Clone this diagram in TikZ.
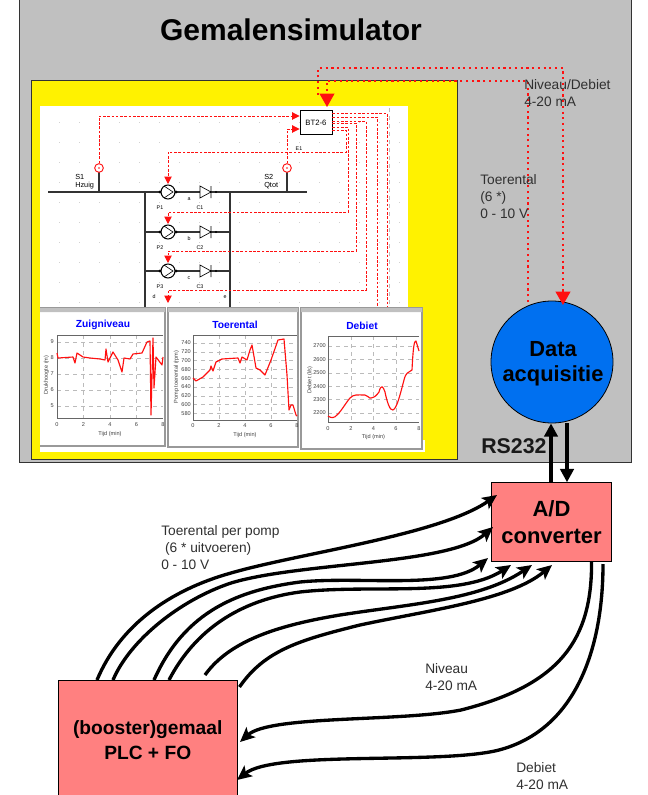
\documentclass[tikz,border=0pt]{standalone}
\usepackage{fontspec}
\setmainfont{Liberation Sans}
\usetikzlibrary{arrows.meta,positioning,calc}
\definecolor{panel}{HTML}{C0C0C0}
\definecolor{pinkbox}{HTML}{FF8080}
\definecolor{bluedisc}{HTML}{0070F0}
\definecolor{dimtext}{HTML}{303030}
\definecolor{dots}{HTML}{BBBBBB}
\definecolor{sigred}{HTML}{FF1010}
\tikzset{ctrlbox/.style={draw=black,line width=0.6pt,fill=pinkbox,align=center,font=\bfseries\fontsize{14.4}{18.7}\selectfont,inner sep=0pt},
 note/.style={anchor=north west,align=left,inner sep=0pt,text=dimtext,font=\fontsize{10.3}{13}\selectfont},
 sigarrow/.style={-{Stealth[length=11pt,width=10pt,inset=2.5pt]},line width=2.5pt,black},
 busarrow/.style={-{Triangle[length=10pt,width=10pt]},line width=2.8pt,black},
 trunkdot/.style={sigred,line width=1.3pt,dash pattern=on 1.6pt off 2.7pt},
 trunkarrow/.style={trunkdot,-{Triangle[length=10pt,width=11pt,sigred]}},
 wire/.style={sigred,line width=0.7pt,dash pattern=on 2pt off 1.2pt},
 wirearrow/.style={wire,-{Triangle[length=5.5pt,width=5.5pt,sigred]}},
 pipe/.style={black!80,line width=0.8pt},
 chartwin/.style={draw=black!40,line width=1.2pt,fill=white},
 charttitle/.style={text=blue,font=\bfseries\fontsize{7.7}{8}\selectfont,inner sep=0pt},
 ticklabel/.style={font=\fontsize{4.2}{5}\selectfont,text=black!75,inner sep=0pt},
 tinylabel/.style={font=\fontsize{4}{5}\selectfont,inner sep=0pt},
 pumpmark/.style={circle,draw=black,line width=0.8pt,fill=white,minimum size=10.5pt,inner sep=0pt},
 sensor/.style={circle,draw=sigred,line width=0.7pt,fill=white,minimum size=6.5pt,inner sep=0pt},
 plotline/.style={sigred,line width=0.85pt,line join=round}}
\begin{document}
\begin{tikzpicture}[x=0.75pt,y=-0.75pt]
\useasboundingbox (0,0) rectangle (648,795);
\fill[white] (0,0) rectangle (648,795);
% panels
\draw[fill=panel,line width=0.6pt,draw=black!80] (19,-5) rectangle (631,462);
\draw[fill=yellow,line width=0.6pt,draw=black!80] (31,80) rectangle (457,459);
\fill[white] (40,106) rectangle (408,452);
\fill[white] (40,440) rectangle (425,452);
\node[font=\bfseries\fontsize{22.5}{26}\selectfont] (title) at (291,30) {Gemalensimulator};
\foreach \gx in {0,...,17}
 \foreach \gy in {0,...,9}
  \fill[dots] (59.5+\gx*20,122.5+\gy*20) circle (0.35pt);
% process lines
\draw[pipe] (48,192) -- (307,192);
\draw[pipe] (145,192) -- (145,310);
\draw[pipe] (230,192) -- (230,310);
\draw[pipe] (145,232) -- (230,232);
\draw[pipe] (145,271) -- (230,271);
\draw[pipe] (99,172) -- (99,192);
\draw[pipe] (287,172) -- (287,192);
\foreach \py/\pname/\cname/\lname in {192/P1/C1/a,232/P2/C2/b,271/P3/C3/c}{
 \node[pumpmark] (pump\pname) at (168,\py) {};
 \draw[line width=0.5pt,black] (164,\py-6) -- (173,\py) -- (164,\py+6);
 \fill[black] (160,\py) circle (1.2pt) (176,\py) circle (1.2pt) (216,\py) circle (0.9pt);
 \fill[white] (200,\py-6) -- (211,\py) -- (200,\py+6) -- cycle;
 \draw[line width=0.5pt,black] (200,\py-6) -- (211,\py) -- (200,\py+6) -- cycle (211,\py-6) -- (211,\py+6);
 \node[tinylabel] at (160,\py+16) {\pname};
 \node[tinylabel] at (200,\py+16) {\cname};
 \node[tinylabel] at (189,\py+7) {\lname};
}
\node[sensor] (s1) at (99,168) {};
\node[sensor] (s2) at (287,168) {};
\fill[sigred] (s1.center) circle (0.6pt) (s2.center) circle (0.6pt);
\node[anchor=north west,font=\fontsize{5.5}{6}\selectfont,align=left,inner sep=0pt] (s1lab) at (75,174) {S1\\Hzuig};
\node[anchor=north west,font=\fontsize{5.5}{6}\selectfont,align=left,inner sep=0pt] (s2lab) at (264,174) {S2\\Qtot};
\node[draw=black,line width=0.7pt,fill=white,minimum width=24pt,minimum height=18.5pt,inner sep=0pt,font=\fontsize{5.8}{6}\selectfont] (bt) at (316,122.5) {BT2-6};
\node[tinylabel] at (299,149) {E1};
\node[tinylabel] at (154,297) {d};
\node[tinylabel] at (225,297) {e};
% red wires
\draw[wirearrow] (s1.north) |- (bt.west |- 0,116);
\draw[wirearrow] (s2.north) |- (bt.west |- 0,129);
\draw[wirearrow] (bt.east |- 0,130) -| (346,152) -| (168,184);
\draw[wirearrow] (bt.east |- 0,127) -| (348,212) -| (168,224);
\draw[wirearrow] (bt.east |- 0,123) -| (356,251) -| (168,263);
\draw[wirearrow] (bt.east |- 0,121) -| (366,290) -| (168,303);
\draw[wire] (bt.east |- 0,117) -| (377,308);
\draw[wire] (bt.east |- 0,113) -| (387,308);
\draw[dots,line width=0.5pt,dashed] (389,108) -- (389,308);
% chart windows
\draw[chartwin] (36,308) rectangle (165,446);
\draw[chartwin] (168,308) rectangle (298,447);
\draw[chartwin] (301,308) rectangle (422,449);
\fill[panel] (40,308) rectangle (165,312) (168,308) rectangle (298,312) (301,308) rectangle (422,312);
\fill[yellow] (31.4,300) rectangle (40,458.6);
\draw[line width=0.6pt,draw=black!80] (31,300) -- (31,459);
\node[charttitle] (zuig) at (103,325) {Zuigniveau};
\node[charttitle] (toer) at (235,325) {Toerental};
\node[charttitle] (deb) at (362,326) {Debiet};
% chart 1
\begin{scope}
\draw[dots,dashed,line width=0.3pt] (83.5,335) -- (83.5,418) (110,335) -- (110,418) (136.5,335) -- (136.5,418);
\foreach \ty/\tl in {342/9,358/8,374/7,390/6,406/5}{
 \draw[dots,dashed,line width=0.3pt] (57,\ty) -- (163,\ty);
 \node[ticklabel,anchor=east] at (54,\ty) {\tl};
}
\foreach \tx/\tl in {57/0,83.5/2,110/4,136.5/6,163/8}
 \node[ticklabel] at (\tx,425) {\tl};
\draw[black!60,line width=0.5pt] (163,335) -- (57,335) -- (57,418) -- (163,418);
\node[ticklabel] at (110,434.5) {Tijd (min)};
\node[ticklabel,rotate=90] at (46.5,375) {Drukhoogte (m)};
\draw[plotline] (57,353) -- (58,358) -- (73,357) -- (75,363) -- (77,353) -- (83,357) -- (90,358) -- (100,359) -- (105,360) -- (106,349) -- (108,362) -- (113,352) -- (118,360) -- (122,372) -- (124,358) -- (130,359) -- (133,354) -- (142,353) -- (147,342) -- (150,341) -- (151,415) -- (153,338) -- (154,388) -- (156,357) -- (162,365) -- (163,357);
\end{scope}
% chart 2
\begin{scope}
\draw[dots,dashed,line width=0.3pt] (219,335) -- (219,420) (245,335) -- (245,420) (271,335) -- (271,420);
\foreach \ti/\tl in {0/740,1/720,2/700,3/680,4/660,5/640,6/620,7/600,8/580}{
 \draw[dots,dashed,line width=0.3pt] (193,343+\ti*8.8) -- (297,343+\ti*8.8);
 \node[ticklabel,anchor=east] at (191,343+\ti*8.8) {\tl};
}
\foreach \tx/\tl in {193/0,219/2,245/4,271/6,297/8}
 \node[ticklabel] at (\tx,426) {\tl};
\draw[black!60,line width=0.5pt] (297,335) -- (193,335) -- (193,420) -- (297,420);
\node[ticklabel] at (245,435.5) {Tijd (min)};
\node[ticklabel,rotate=90] at (176.5,377) {Pomp toerental (rpm)};
\draw[plotline] (193,378) -- (196,381) -- (203,377) -- (210,370) -- (211,366) -- (213,371) -- (216,362) -- (222,359) -- (230,358.5) -- (238,358) -- (240,363) -- (242,357) -- (247,360) -- (250,350) -- (252,345) -- (256,368) -- (260,370) -- (265,375) -- (271,360) -- (278,340) -- (284,339) -- (287,375) -- (289,410) -- (291,405) -- (293,405) -- (296,415) -- (297,416);
\end{scope}
% chart 3
\begin{scope}
\draw[dots,dashed,line width=0.3pt] (351,336) -- (351,422) (373.5,336) -- (373.5,422) (396,336) -- (396,422);
\foreach \ti/\tl in {0/2700,1/2600,2/2500,3/2400,4/2300,5/2200}{
 \draw[dots,dashed,line width=0.3pt] (328,346+\ti*13.4) -- (419,346+\ti*13.4);
 \node[ticklabel,anchor=east] at (326,346+\ti*13.4) {\tl};
}
\foreach \tx/\tl in {328/0,351/2,373.5/4,396/6,419/8}
 \node[ticklabel] at (\tx,429) {\tl};
\draw[black!60,line width=0.5pt] (419,336) -- (328,336) -- (328,422) -- (419,422);
\node[ticklabel] at (373.5,437) {Tijd (min)};
\node[ticklabel,rotate=90] at (310,380) {Debiet (l/s)};
\draw[plotline] (328,416) .. controls (331,418) and (334,419) .. (338,414) .. controls (342,410) and (345,404) .. (350,398) .. controls (354,394) and (357,395) .. (365,395) .. controls (368,395) and (369,399) .. (371,398) .. controls (375,397) and (376,396) .. (379,392) .. controls (381,384) and (383,386) .. (385,392) .. controls (387,402) and (390,411) .. (393,410) .. controls (397,408) and (400,395) .. (404,380) .. controls (406,372) and (408,373) .. (412,370) .. controls (413,350) and (414,340) .. (416,341) -- (419,351);
\end{scope}
% right side
\node[circle,draw=black,line width=0.6pt,fill=bluedisc,minimum size=91.5pt,inner sep=0pt] (daq) at (552,362) {};
\node[align=center,inner sep=0pt,font=\bfseries\fontsize{16.4}{19}\selectfont] (daqtext) at ($(daq)+(1,2)$) {Data\\acquisitie};
\node[ctrlbox,minimum width=89.5pt,minimum height=59pt,font=\bfseries\fontsize{16.5}{20.3}\selectfont] (ad) at (551.5,522) {A/D\\converter};
\node[ctrlbox,anchor=north west,minimum width=134pt,minimum height=89.5pt] (plc) at (58,680) {(booster)gemaal\\PLC + FO};
\coordinate (trunkA) at (563,305);
\coordinate (trunkB) at (327,107);
\draw[trunkarrow] (bt.north -| 318,0) ++(0,-15) |- (563,68) -- (trunkA);
\draw[trunkarrow] (528,302) |- (327,81) -- (trunkB);
\draw[busarrow] (ad.north -| 551,0) -- (daq.south -| 551,0);
\draw[busarrow] (567,423) -- (ad.north -| 567,0);
\node[font=\bfseries\fontsize{16}{18}\selectfont,text=black!90,anchor=west,inner sep=0pt] (rslab) at (481,446) {RS232};
% notes
\node[note] (n1) at (524,79) {Niveau/Debiet\\4-20 mA};
\node[note] (n2) at (480,174) {Toerental\\(6 *)\\0 - 10 V};
\node[note] (n3) at (161,525) {Toerental per pomp\\\ (6 * uitvoeren)\\0 - 10 V};
\node[note] (n4) at (425,663) {Niveau\\4-20 mA};
\node[note] (n5) at (516,762) {Debiet\\4-20 mA};
% signal curves
\draw[sigarrow] ($(plc.north west)+(39,0)$) .. controls (120,625) and (170,590) .. (231,573) .. controls (300,553) and (440,535) .. (497,495);
\draw[sigarrow] ($(plc.north west)+(55,0)$) .. controls (130,640) and (180,600) .. (231,583) .. controls (300,562) and (450,565) .. (493,527);
\draw[sigarrow] ($(plc.north west)+(96,0)$) .. controls (185,610) and (240,590) .. (300,582) .. controls (360,576) and (450,590) .. (488,558);
\draw[sigarrow] ($(plc.north west)+(111,0)$) .. controls (195,630) and (240,600) .. (300,592) .. controls (370,584) and (460,598) .. (511,565);
\draw[sigarrow] (205,675) .. controls (230,640) and (280,625) .. (340,615) .. controls (410,604) and (480,600) .. (532,565);
\draw[sigarrow] ($(plc.north east)+(2,7)$) .. controls (265,650) and (300,640) .. (360,625) .. controls (430,610) and (510,600) .. (552,565);
\draw[sigarrow] ($(ad.south east)+(-20,0)$) .. controls (592,640) and (560,685) .. (461,710) .. controls (400,722) and (270,715) .. (240,742);
\draw[sigarrow] (603,564) .. controls (603,650) and (575,730) .. (499,750) .. controls (440,765) and (275,750) .. (237,780);
\end{tikzpicture}
\end{document}
